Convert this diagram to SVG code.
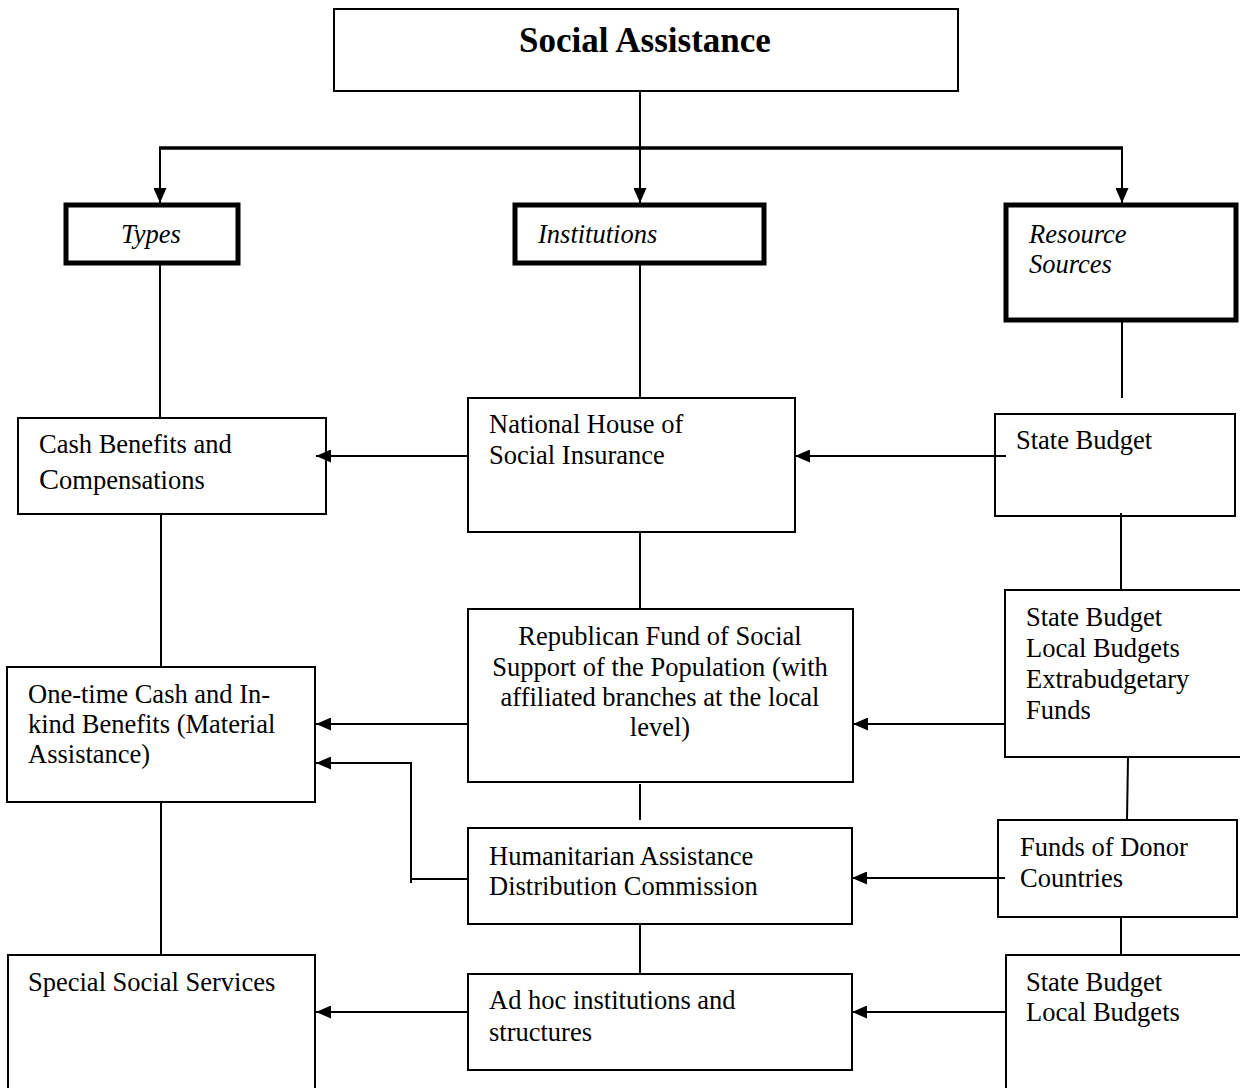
<svg xmlns="http://www.w3.org/2000/svg" width="1240" height="1088" viewBox="0 0 1240 1088">
<style>
.box{fill:#fff;stroke:#000;stroke-width:2}
.thick{fill:#fff;stroke:#000;stroke-width:5}
.t{font-family:"Liberation Serif","Times New Roman",serif;font-size:26.5px;fill:#000}
.i{font-style:italic}
.c{stroke:#000;stroke-width:2;fill:none}
</style>
<defs>
<marker id="arr" markerUnits="userSpaceOnUse" markerWidth="15" markerHeight="13" refX="15" refY="6.5" orient="auto">
<path d="M0,0 L15,6.5 L0,13 z" fill="#000"/>
</marker>
</defs>
<rect width="1240" height="1088" fill="#fff"/>
<g id="social-assistance">
<rect class="box" x="334" y="9" width="624" height="82"/>
<text class="t" x="645" y="52" text-anchor="middle" font-weight="bold" style="font-size:35px">Social Assistance</text>
</g>
<g id="types">
<rect class="thick" x="66" y="205" width="172" height="58"/>
<text class="t i" x="121" y="243">Types</text>
</g>
<g id="institutions">
<rect class="thick" x="515" y="205" width="249" height="58"/>
<text class="t i" x="538" y="243">Institutions</text>
</g>
<g id="resource-sources">
<rect class="thick" x="1006" y="205" width="230" height="115"/>
<text class="t i" x="1029" y="243">Resource</text>
<text class="t i" x="1029" y="273">Sources</text>
</g>
<g id="cash-benefits">
<rect class="box" x="18" y="418" width="308" height="96"/>
<text class="t" x="39" y="453">Cash Benefits and</text>
<text class="t" x="39" y="489"><tspan style="font-size:30px">C</tspan>ompensations</text>
</g>
<g id="national-house">
<rect class="box" x="468" y="398" width="327" height="134"/>
<text class="t" x="489" y="433">National House of</text>
<text class="t" x="489" y="464">Social Insurance</text>
</g>
<g id="state-budget-1">
<rect class="box" x="995" y="414" width="240" height="102"/>
<text class="t" x="1016" y="449">State Budget</text>
</g>
<g id="one-time">
<rect class="box" x="7" y="667" width="308" height="135"/>
<text class="t" x="28" y="703">One-time Cash and In-</text>
<text class="t" x="28" y="733">kind Benefits (Material</text>
<text class="t" x="28" y="763">Assistance)</text>
</g>
<g id="republican-fund">
<rect class="box" x="468" y="609" width="385" height="173"/>
<text class="t" x="660" y="645" text-anchor="middle">Republican Fund of Social</text>
<text class="t" x="660" y="676" text-anchor="middle">Support of the Population (with</text>
<text class="t" x="660" y="706" text-anchor="middle">affiliated branches at the local</text>
<text class="t" x="660" y="736" text-anchor="middle">level)</text>
</g>
<g id="state-local-extra">
<rect class="box" x="1005" y="590" width="245" height="167"/>
<text class="t" x="1026" y="626">State Budget</text>
<text class="t" x="1026" y="657">Local Budgets</text>
<text class="t" x="1026" y="688">Extrabudgetary</text>
<text class="t" x="1026" y="719">Funds</text>
</g>
<g id="humanitarian">
<rect class="box" x="468" y="828" width="384" height="96"/>
<text class="t" x="489" y="865">Humanitarian Assistance</text>
<text class="t" x="489" y="895">Distribution Commission</text>
</g>
<g id="donor-funds">
<rect class="box" x="998" y="820" width="239" height="97"/>
<text class="t" x="1020" y="856">Funds of Donor</text>
<text class="t" x="1020" y="887">Countries</text>
</g>
<g id="special-services">
<rect class="box" x="8" y="955" width="307" height="145"/>
<text class="t" x="28" y="991">Special Social Services</text>
</g>
<g id="ad-hoc">
<rect class="box" x="468" y="974" width="384" height="96"/>
<text class="t" x="489" y="1009">Ad hoc institutions and</text>
<text class="t" x="489" y="1041">structures</text>
</g>
<g id="state-local">
<rect class="box" x="1006" y="955" width="245" height="145"/>
<text class="t" x="1026" y="991">State Budget</text>
<text class="t" x="1026" y="1021">Local Budgets</text>
</g>
<g id="connectors">
<line class="c" x1="640" y1="91" x2="640" y2="203" marker-end="url(#arr)"/>
<line x1="159" y1="148" x2="1123" y2="148" stroke="#000" stroke-width="3.5"/>
<line class="c" x1="160" y1="148" x2="160" y2="203" marker-end="url(#arr)"/>
<line class="c" x1="1122" y1="148" x2="1122" y2="203" marker-end="url(#arr)"/>
<line class="c" x1="160" y1="265" x2="160" y2="418"/>
<line class="c" x1="640" y1="265" x2="640" y2="398"/>
<line class="c" x1="1122" y1="322" x2="1122" y2="398"/>
<line class="c" x1="468" y1="456" x2="316" y2="456" marker-end="url(#arr)"/>
<line class="c" x1="1006" y1="456" x2="795" y2="456" marker-end="url(#arr)"/>
<line class="c" x1="1121" y1="513" x2="1121" y2="590"/>
<line class="c" x1="640" y1="532" x2="640" y2="609"/>
<line class="c" x1="161" y1="514" x2="161" y2="667"/>
<line class="c" x1="1005" y1="724" x2="853" y2="724" marker-end="url(#arr)"/>
<line class="c" x1="468" y1="724" x2="316" y2="724" marker-end="url(#arr)"/>
<polyline class="c" points="468,879 411,879 411,763 316,763" marker-end="url(#arr)"/>
<line class="c" x1="411" y1="879" x2="411" y2="883"/>
<line class="c" x1="640" y1="784" x2="640" y2="820"/>
<line class="c" x1="1128" y1="758" x2="1127" y2="819"/>
<line class="c" x1="1005" y1="878" x2="852" y2="878" marker-end="url(#arr)"/>
<line class="c" x1="1121" y1="917" x2="1121" y2="955"/>
<line class="c" x1="640" y1="924" x2="640" y2="974"/>
<line class="c" x1="161" y1="802" x2="161" y2="955"/>
<line class="c" x1="1006" y1="1012" x2="852" y2="1012" marker-end="url(#arr)"/>
<line class="c" x1="468" y1="1012" x2="316" y2="1012" marker-end="url(#arr)"/>
</g>
</svg>
